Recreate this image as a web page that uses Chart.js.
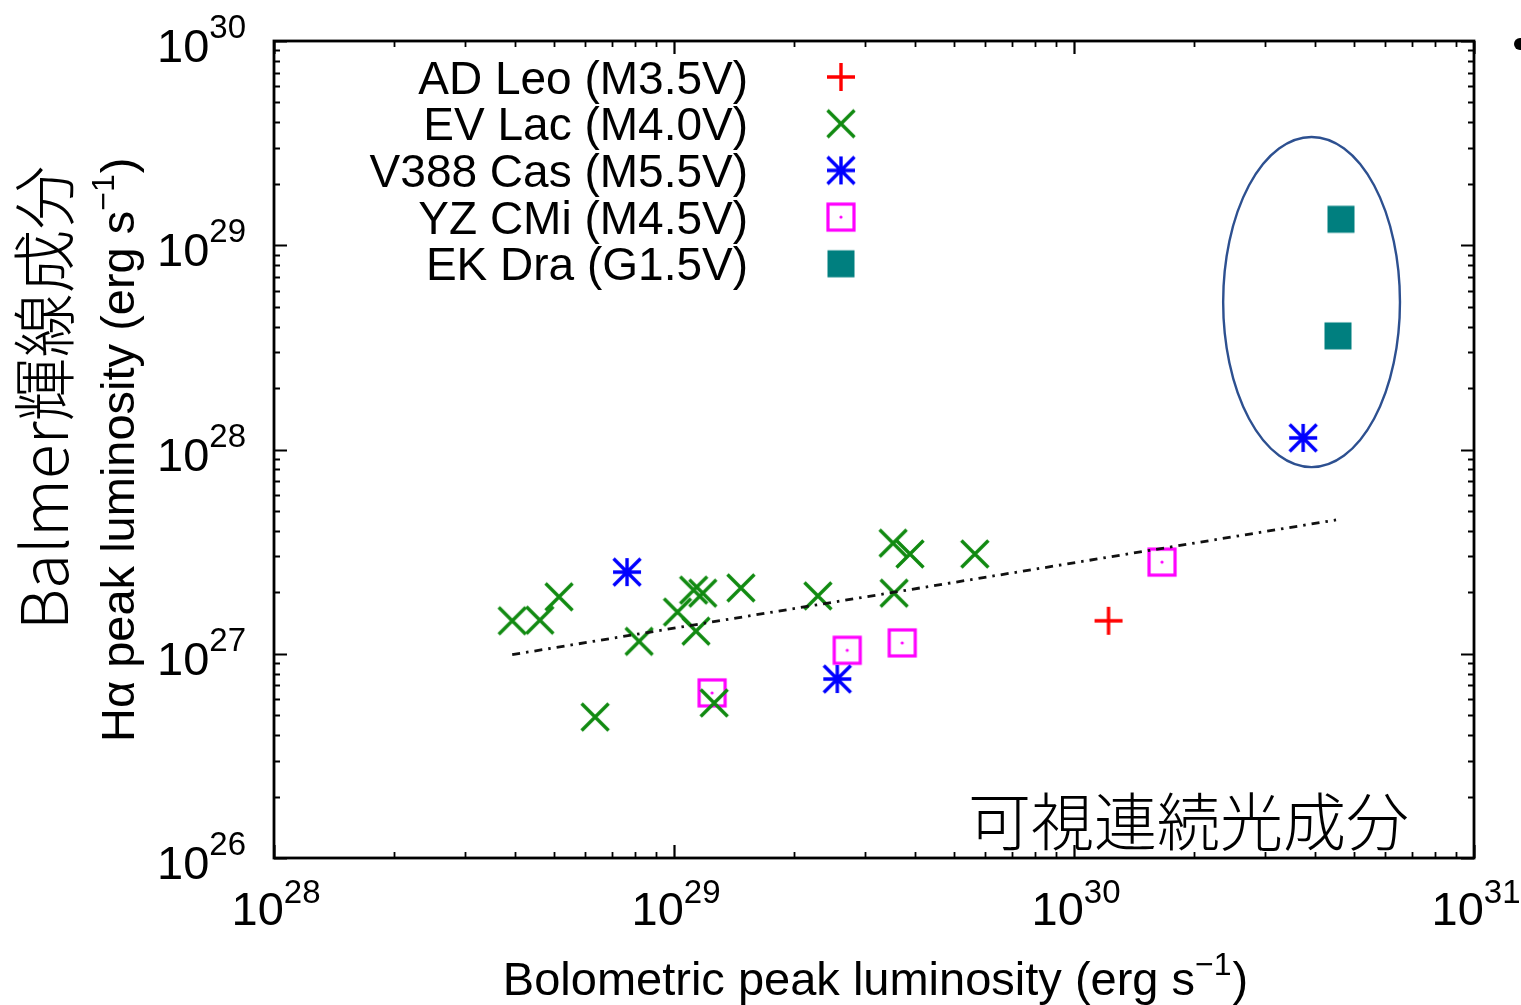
<!DOCTYPE html>
<html>
<head>
<meta charset="utf-8">
<script src="https://cdn.jsdelivr.net/npm/chart.js@4.4.0/dist/chart.umd.min.js"></script>
<style>
  html, body { margin: 0; padding: 0; background: #ffffff; overflow: hidden; }
  #wrap { width: 1521px; height: 1005px; position: relative; }
  canvas { display: block; }
</style>
</head>
<body>
<div id="wrap"><canvas id="chart" width="1521" height="1005"></canvas></div>
<script>
// Flare peak luminosities in erg/s: bolometric (x) against H-alpha (y)
const starNames = ['AD Leo (M3.5V)', 'EV Lac (M4.0V)', 'V388 Cas (M5.5V)', 'YZ CMi (M4.5V)', 'EK Dra (G1.5V)'];

const adLeoBol = [1.22e30];
const adLeoHa  = [1.45e27];

const evLacBol = [3.94e28, 4.62e28, 5.16e28, 6.35e28, 8.18e28, 1.02e29, 1.135e29, 1.12e29,
                  1.18e29, 1.47e29, 1.26e29, 2.29e29, 3.53e29, 3.89e29, 3.55e29, 5.65e29];
const evLacHa  = [1.45e27, 1.46e27, 1.90e27, 4.9e26, 1.15e27, 1.60e27, 1.29e27, 2.05e27,
                  1.98e27, 2.10e27, 5.74e26, 1.92e27, 3.48e27, 3.08e27, 1.98e27, 3.08e27];

const v388CasBol = [7.63e28, 2.56e29, 3.74e30];
const v388CasHa  = [2.51e27, 7.52e26, 1.14e28];

const yzCMiBol = [1.245e29, 2.71e29, 3.72e29, 1.66e30];
const yzCMiHa  = [6.43e26, 1.04e27, 1.13e27, 2.81e27];

const ekDraBol = [4.65e30, 4.57e30];
const ekDraHa  = [1.34e29, 3.60e28];

// Power-law fit drawn as a dash-dot line between its end points
const fitBol = [3.94e28, 4.52e30];
const fitHa  = [9.9e26, 4.52e27];

// Ellipse grouping the brightest flares (bounds in data units)
const ringBol = [2.36e30, 6.53e30];
const ringHa  = [8.2e27, 3.39e29];

// Axis decades and their exponent labels
const xDecades = [1e28, 1e29, 1e30, 1e31];
const xExponents = ['28', '29', '30', '31'];
const yDecades = [1e26, 1e27, 1e28, 1e29, 1e30];
const yExponents = ['26', '27', '28', '29', '30'];

const xTitle = 'Bolometric peak luminosity (erg s';
const yTitle = 'H\u03b1 peak luminosity (erg s';
const yTitleJa = 'Balmer輝線成分';
const xNoteJa = '可視連続光成分';

const LATIN = '"Liberation Sans", Arial, Helvetica, sans-serif';
const CJK = '"Noto Sans CJK JP", "Noto Sans CJK SC", sans-serif';

function pairs(xs, ys) { return xs.map((x, i) => ({ x: x, y: ys[i] })); }

// Marker glyphs in the style of gnuplot point types
function marker(kind, color) {
  const size = 36, m = size / 2;
  const c = document.createElement('canvas');
  c.width = size; c.height = size;
  const g = c.getContext('2d');
  g.strokeStyle = color; g.fillStyle = color; g.lineWidth = 3.4; g.lineCap = 'butt';
  const h = 13.5;
  g.beginPath();
  if (kind === 'plus' || kind === 'star') {
    g.moveTo(m - h - 0.5, m); g.lineTo(m + h + 0.5, m);
    g.moveTo(m, m - h - 0.5); g.lineTo(m, m + h + 0.5);
  }
  if (kind === 'cross' || kind === 'star') {
    g.moveTo(m - h, m - h); g.lineTo(m + h, m + h);
    g.moveTo(m - h, m + h); g.lineTo(m + h, m - h);
  }
  g.stroke();
  if (kind === 'box') {
    g.lineWidth = 3.2;
    g.strokeRect(m - 13, m - 13, 26, 26);
    g.beginPath(); g.arc(m, m, 1.6, 0, Math.PI * 2); g.fill();
  }
  if (kind === 'fbox') {
    g.fillRect(m - 13.5, m - 13.5, 27, 27);
  }
  return c;
}

const markers = [
  marker('plus', '#ff0000'),
  marker('cross', '#118a11'),
  marker('star', '#0000ff'),
  marker('box', '#ff00ff'),
  marker('fbox', '#007f7f')
];

function scatterSet(label, xs, ys, idx) {
  return {
    type: 'scatter', label: label, data: pairs(xs, ys),
    pointStyle: markers[idx], pointRadius: 14, pointHoverRadius: 14,
    showLine: false
  };
}

// Ticks pointing inward on all four sides, decades long and minors short
const frameTicks = {
  id: 'frameTicks',
  afterDatasetsDraw(chart) {
    const ctx = chart.ctx, a = chart.chartArea;
    const xs = chart.scales.x, ys = chart.scales.y;
    ctx.save();
    ctx.strokeStyle = '#000';
    function minors(decades) {
      const out = [];
      for (let i = 0; i < decades.length - 1; i++)
        for (let k = 2; k <= 9; k++) out.push(decades[i] * k);
      return out;
    }
    ctx.beginPath(); ctx.lineWidth = 1.8;
    minors(xDecades).forEach(v => {
      const px = Math.round(xs.getPixelForValue(v)) + 0.5;
      ctx.moveTo(px, a.bottom); ctx.lineTo(px, a.bottom - 6);
      ctx.moveTo(px, a.top); ctx.lineTo(px, a.top + 6);
    });
    minors(yDecades).forEach(v => {
      const py = Math.round(ys.getPixelForValue(v)) + 0.5;
      ctx.moveTo(a.left, py); ctx.lineTo(a.left + 6, py);
      ctx.moveTo(a.right, py); ctx.lineTo(a.right - 6, py);
    });
    ctx.stroke();
    ctx.beginPath(); ctx.lineWidth = 2.2;
    xDecades.forEach(v => {
      const px = Math.round(xs.getPixelForValue(v)) + 0.5;
      ctx.moveTo(px, a.bottom); ctx.lineTo(px, a.bottom - 13);
      ctx.moveTo(px, a.top); ctx.lineTo(px, a.top + 13);
    });
    yDecades.forEach(v => {
      const py = Math.round(ys.getPixelForValue(v)) + 0.5;
      ctx.moveTo(a.left, py); ctx.lineTo(a.left + 13, py);
      ctx.moveTo(a.right, py); ctx.lineTo(a.right - 13, py);
    });
    ctx.stroke();
    ctx.lineWidth = 2.8;
    ctx.strokeRect(a.left, a.top, a.right - a.left, a.bottom - a.top);
    ctx.restore();
  }
};

// Power-of-ten tick labels with raised exponents
const powerLabels = {
  id: 'powerLabels',
  afterDraw(chart) {
    const ctx = chart.ctx, a = chart.chartArea;
    const xs = chart.scales.x, ys = chart.scales.y;
    const baseFont = '47px ' + LATIN, expFont = '33px ' + LATIN;
    ctx.save();
    ctx.fillStyle = '#000';
    ctx.textBaseline = 'alphabetic';
    function widthOf(txt, f) { ctx.font = f; return ctx.measureText(txt).width; }
    xDecades.forEach((v, i) => {
      const px = xs.getPixelForValue(v);
      const w1 = widthOf('10', baseFont), w2 = widthOf(xExponents[i], expFont);
      const x0 = px - (w1 + w2) / 2 + 2;
      ctx.textAlign = 'left';
      ctx.font = baseFont; ctx.fillText('10', x0, a.bottom + 67);
      ctx.font = expFont; ctx.fillText(xExponents[i], x0 + w1, a.bottom + 45);
    });
    yDecades.forEach((v, i) => {
      const py = ys.getPixelForValue(v);
      const w2 = widthOf(yExponents[i], expFont);
      const right = a.left - 28;
      ctx.textAlign = 'right';
      ctx.font = expFont; ctx.fillText(yExponents[i], right, py - 3);
      ctx.font = baseFont; ctx.fillText('10', right - w2, py + 21);
    });
    ctx.restore();
  }
};

// Axis titles, legend block, annotations
const decorations = {
  id: 'decorations',
  afterDraw(chart) {
    const ctx = chart.ctx, a = chart.chartArea;
    const xs = chart.scales.x, ys = chart.scales.y;
    ctx.save();
    ctx.fillStyle = '#000';
    ctx.textBaseline = 'alphabetic';

    // x-axis title with superscript
    const tf = '47px ' + LATIN, sf = '32px ' + LATIN;
    ctx.font = tf; const wMain = ctx.measureText(xTitle).width; const wClose = ctx.measureText(')').width;
    ctx.font = sf; const wSup = ctx.measureText('\u22121').width;
    let x0 = 875 - (wMain + wSup + wClose) / 2;
    ctx.textAlign = 'left';
    ctx.font = tf; ctx.fillText(xTitle, x0, 995);
    ctx.font = sf; ctx.fillText('\u22121', x0 + wMain, 975);
    ctx.font = tf; ctx.fillText(')', x0 + wMain + wSup + 1, 995);

    // y-axis title, rotated
    ctx.save();
    ctx.translate(134, 742);
    ctx.rotate(-Math.PI / 2);
    ctx.font = tf; const yw = ctx.measureText(yTitle).width;
    ctx.fillText(yTitle, 0, 0);
    ctx.font = sf; const ysw = ctx.measureText('\u22121').width;
    ctx.fillText('\u22121', yw, -20);
    ctx.font = tf; ctx.fillText(')', yw + ysw + 1, 0);
    ctx.restore();

    // Japanese heading for the y-axis
    ctx.save();
    ctx.translate(68, 630);
    ctx.rotate(-Math.PI / 2);
    ctx.font = '300 64px ' + CJK;
    ctx.fillText(yTitleJa, 0, 0);
    ctx.restore();

    // Japanese note for the x-axis component
    ctx.font = '300 63px ' + CJK;
    ctx.textAlign = 'left';
    ctx.textBaseline = 'middle';
    ctx.fillText(xNoteJa, 968, 821);

    // Legend: right-aligned names with marker to the right
    ctx.font = '46px ' + LATIN;
    ctx.textAlign = 'right';
    ctx.textBaseline = 'alphabetic';
    starNames.forEach((name, i) => {
      const cy = 77 + i * 46.7;
      ctx.fillText(name, 748, cy + 16.5);
      const mk = markers[i];
      ctx.drawImage(mk, 841 - mk.width / 2, cy - mk.height / 2);
    });

    // Grouping ellipse
    const l = xs.getPixelForValue(ringBol[0]), r = xs.getPixelForValue(ringBol[1]);
    const t = ys.getPixelForValue(ringHa[1]), b = ys.getPixelForValue(ringHa[0]);
    ctx.beginPath();
    ctx.ellipse((l + r) / 2, (t + b) / 2, (r - l) / 2, (b - t) / 2, 0, 0, Math.PI * 2);
    ctx.strokeStyle = '#2d5090';
    ctx.lineWidth = 2.4;
    ctx.stroke();

    // Bullet at the slide edge
    ctx.beginPath();
    ctx.arc(1520, 44, 6, 0, Math.PI * 2);
    ctx.fillStyle = '#000';
    ctx.fill();
    ctx.restore();
  }
};

new Chart(document.getElementById('chart'), {
  data: {
    datasets: [
      {
        type: 'line', label: 'fit', data: pairs(fitBol, fitHa),
        borderColor: '#111111', borderWidth: 2.8, borderDash: [8, 6, 2.5, 6],
        pointRadius: 0, fill: false, tension: 0
      },
      scatterSet(starNames[1], evLacBol, evLacHa, 1),
      scatterSet(starNames[0], adLeoBol, adLeoHa, 0),
      scatterSet(starNames[2], v388CasBol, v388CasHa, 2),
      scatterSet(starNames[3], yzCMiBol, yzCMiHa, 3),
      scatterSet(starNames[4], ekDraBol, ekDraHa, 4)
    ]
  },
  options: {
    responsive: false,
    animation: false,
    devicePixelRatio: 1,
    layout: { padding: { left: 274, top: 41, right: 47, bottom: 147 } },
    scales: {
      x: { type: 'logarithmic', min: 1e28, max: 1e31, display: false },
      y: { type: 'logarithmic', min: 1e26, max: 1e30, display: false }
    },
    plugins: {
      legend: { display: false },
      tooltip: { enabled: false },
      title: { display: false }
    }
  },
  plugins: [frameTicks, powerLabels, decorations]
});
</script>
</body>
</html>
